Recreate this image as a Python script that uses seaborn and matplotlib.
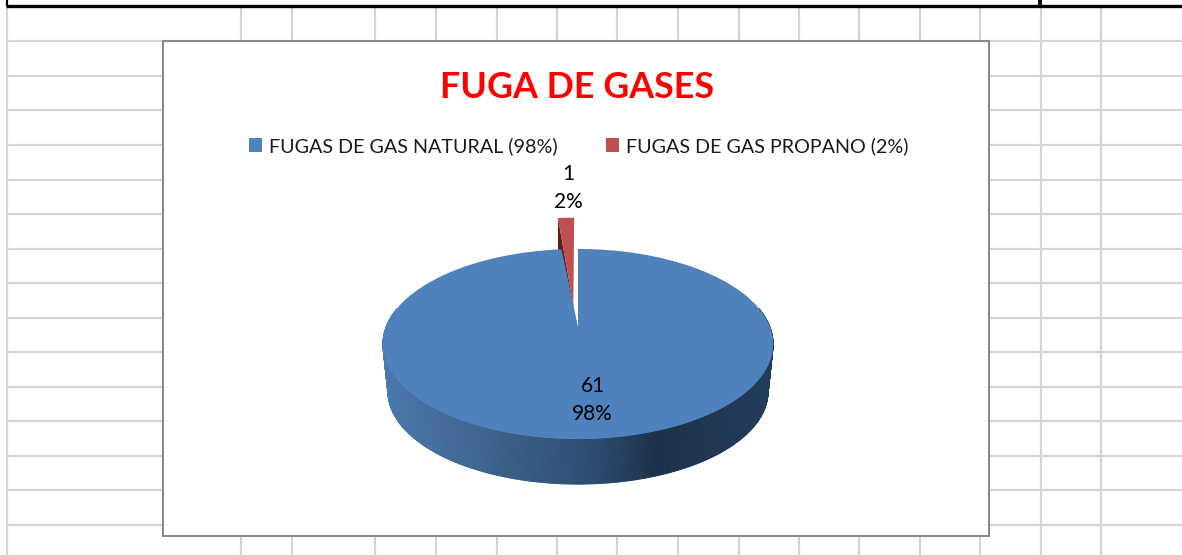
import numpy as np
import matplotlib
matplotlib.use("Agg")
import matplotlib.pyplot as plt
from matplotlib.transforms import Transform
from matplotlib.collections import PolyCollection
from matplotlib.colors import LinearSegmentedColormap
import seaborn as sns

# ---- data ----
series_names = ["FUGAS DE GAS NATURAL (98%)", "FUGAS DE GAS PROPANO (2%)"]
values = [61, 1]
chart_title = "FUGA DE GASES"
slice_colors = ["#4f81bd", "#c0504d"]
red_side_color = "#5c1f1d"
side_stops = ["#4b78ad", "#3a6088", "#2c4a70", "#1c3049", "#223c5c"]
side_stop_pos = [0.0, 0.3, 0.55, 0.7, 1.0]

# spreadsheet background
grid_y = [41, 76, 110, 145, 180, 214, 249, 283, 318, 352, 387, 421, 456, 490, 525]
grid_x = [241, 292, 375, 436, 497, 557, 617, 678, 739, 799, 859, 920, 980, 1041, 1101]

W, H = 1182, 555
sns.set_theme(style="white", palette=sns.color_palette(slice_colors))
plt.rcParams["font.family"] = ["Lato", "DejaVu Sans"]

# perspective of the pie plane
CX, CY, BX, AY, P = 578.0, 327.0, 192.0, 92.0, 0.179


class Persp(Transform):
    input_dims = 2
    output_dims = 2
    is_affine = False

    def __init__(self, cy=CY, scale=1.0, xscale=1.0):
        super().__init__()
        self.cy, self.scale, self.xscale = cy, scale, xscale

    def transform_non_affine(self, xy):
        xy = np.asarray(xy, float)
        d = 1 + P * xy[:, 1]
        return np.column_stack([CX + self.xscale * self.scale * BX * xy[:, 0] / d,
                                self.cy - self.scale * AY * xy[:, 1] / d])

    def inverted(self):
        raise NotImplementedError


fig = plt.figure(figsize=(W / 100, H / 100), dpi=100, facecolor="white")
ax = fig.add_axes([0, 0, 1, 1])

# pie: clockwise from 12 o'clock
wedges, _ = ax.pie(values, colors=slice_colors, startangle=90, counterclock=False,
                   explode=[0, 0.25], radius=1.0, labels=None)
ax.set_aspect("auto")
ax.set_xlim(0, W)
ax.set_ylim(H, 0)
ax.axis("off")

top = Persp()
red_top = Persp(xscale=0.84)
bottom = Persp(cy=375.0, scale=0.974)
blue, red = wedges
red.set_radius(1.26)
red.set_center((red.center[0] - 0.0175, red.center[1]))
for w, tr, z in ((blue, top, 6), (red, red_top, 5)):
    w.set_transform(tr + ax.transData)
    w.set_zorder(z)
    w.set_edgecolor("none")
    w.set_linewidth(0)

# extruded rim of the big slice
t = np.radians(np.linspace(168, 372, 400))
ring = np.column_stack([np.cos(t), np.sin(t)])
rt = top.transform_non_affine(ring)
rb = bottom.transform_non_affine(ring)
cmap = LinearSegmentedColormap.from_list("rim", list(zip(side_stop_pos, side_stops)))
quads, cols = [], []
for i in range(len(t) - 1):
    quads.append([rt[i], rt[i + 1], rb[i + 1], rb[i]])
    cols.append(cmap(np.clip((rt[i, 0] - 383) / 390, 0, 1)))
ax.add_collection(PolyCollection(quads, facecolors=cols, edgecolors=cols, linewidths=0.6, zorder=3))

# cut face of the exploded slice
th = np.radians(red.theta2)
cx, cy = red.center
apex = np.array([[cx, cy]])
rim_pt = apex + red.r * np.array([[np.cos(th), np.sin(th)]])
a0, r0 = red_top.transform_non_affine(apex)[0], red_top.transform_non_affine(rim_pt)[0]
ax.fill([a0[0], r0[0], r0[0], a0[0]], [a0[1], r0[1], r0[1] + 45, a0[1] + 45],
        color=red_side_color, lw=0, zorder=4)

# spreadsheet grid, behind the chart
grid_col = "#d4d4d4"
ax.hlines(grid_y, 7, W, colors=grid_col, lw=1.6, zorder=0)
ax.vlines(grid_x, 6, H, colors=grid_col, lw=1.6, zorder=0)
ax.vlines([7], 6, H, colors=grid_col, lw=1.6, zorder=0)
ax.hlines([5.5], 6, W, colors="black", lw=2.4, zorder=0.5)
ax.vlines([1040], 0, 6, colors="black", lw=2.8, zorder=0.5)
ax.vlines([7], 0, 6, colors="black", lw=1.6, zorder=0.5)
ax.add_patch(plt.Rectangle((162.5, 41), 826.5, 495, fc="white", ec="#868686", lw=1.4, zorder=1))

# texts
ax.text(577, 87.5, chart_title, color="#ff0000", fontsize=25.8, fontweight="bold",
        ha="center", va="center", zorder=8)
total = sum(values)
label_xy = [(592.5, 400), (568, 187.5)]
for v, (x, y) in zip(values, label_xy):
    ax.text(x, y, f"{v}\n{v / total:.0%}", fontsize=15, color="black", ha="center", va="center",
            linespacing=1.5, zorder=8)

leg = ax.legend(wedges, series_names, ncols=2, loc="center", bbox_to_anchor=(579 / W, 1 - 146 / H),
                frameon=False, fontsize=14.2, handlelength=0.66, handleheight=0.66,
                handletextpad=0.35, columnspacing=2.44, labelcolor="#1a1a1a")
leg.set_zorder(8)

fig.savefig("out.png", dpi=100, facecolor="white")
